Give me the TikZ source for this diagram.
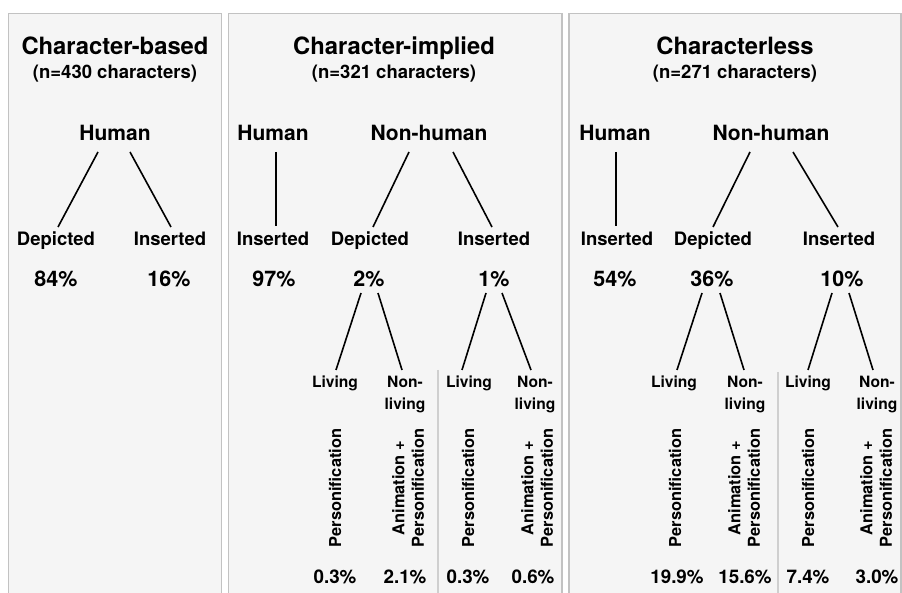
\documentclass[tikz,border=0pt]{standalone}
\usepackage{fontspec}
\setmainfont{TeX Gyre Heros}
\usetikzlibrary{calc}
\definecolor{panelfill}{HTML}{F5F5F5}
\definecolor{panelline}{HTML}{C2C2C2}
\definecolor{divline}{HTML}{CFCFCF}
\tikzset{
 panel/.style={fill=panelfill, draw=panelline, line width=1.5pt},
 ttl/.style={anchor=base, font=\fontsize{23.8}{28}\selectfont\bfseries, inner sep=0pt},
 sub/.style={anchor=base, font=\fontsize{18.5}{22}\selectfont\bfseries, inner sep=0pt},
 lvA/.style={anchor=base, font=\fontsize{21}{25}\selectfont\bfseries, inner sep=0pt},
 lvB/.style={anchor=base, font=\fontsize{18.5}{22}\selectfont\bfseries, inner sep=0pt},
 pctA/.style={anchor=base, font=\fontsize{21.5}{25}\selectfont\bfseries, inner sep=0pt},
 lvC/.style={anchor=base, font=\fontsize{15.6}{21}\selectfont\bfseries, inner sep=0pt},
 rot/.style={rotate=90, anchor=center, align=center, font=\fontsize{16.4}{19.5}\selectfont\bfseries, inner sep=0pt},
 pctB/.style={anchor=base, font=\fontsize{18.8}{22}\selectfont\bfseries, inner sep=0pt},
 link/.style={line width=1.6pt, black},
 divider/.style={draw=divline, line width=1.2pt},
}
\newcommand{\nonliving}{\begin{tabular}[t]{@{}c@{}}Non-\\living\end{tabular}}
\begin{document}
\begin{tikzpicture}[x=1pt,y=-1pt]
\useasboundingbox (0,0) rectangle (902,593);
\clip (0,0) rectangle (902,593);
\fill[white] (0,0) rectangle (902,593);
\draw[panel] (8.7,13.5) rectangle (221.5,620);
\draw[panel] (228.5,13.5) rectangle (562,620);
\draw[panel] (569,13.5) rectangle (901,620);
\draw[divider] (438,370) -- (438,600);
\draw[divider] (778,372) -- (778,600);

% Panel 1
\node[ttl] (t1) at (115,55) {Character-based};
\node[sub] (s1) at (115,79) {(n=430 characters)};
\node[lvA] (h1) at (115,141) {Human};
\node[lvB] (d1) at (56,246) {Depicted};
\node[lvB] (i1) at (170,246) {Inserted};
\node[pctA] (p1a) at (56,287) {84\%};
\node[pctA] (p1b) at (169,287) {16\%};

% Panel 2
\node[ttl] (t2) at (394,55) {Character-implied};
\node[sub] (s2) at (394,79) {(n=321 characters)};
\node[lvA] (h2) at (273,141) {Human};
\node[lvA] (nh2) at (429,141) {Non-human};
\node[lvB] (ih2) at (273,246) {Inserted};
\node[lvB] (d2) at (370,246) {Depicted};
\node[lvB] (i2) at (494,246) {Inserted};
\node[pctA] (p2a) at (274,287) {97\%};
\node[pctA] (p2b) at (369,287) {2\%};
\node[pctA] (p2c) at (494,287) {1\%};
\node[lvC] (l2a) at (335,388) {Living};
\node[lvC] (nl2a) at (405,388) {\nonliving};
\node[lvC] (l2b) at (469,388) {Living};
\node[lvC] (nl2b) at (535,388) {\nonliving};
\node[rot] (r2a) at (335,488) {Personification};
\node[rot] (r2b) at (408,488) {Animation +\\Personification};
\node[rot] (r2c) at (468,488) {Personification};
\node[rot] (r2d) at (537,488) {Animation +\\Personification};
\node[pctB] (q2a) at (335,583) {0.3\%};
\node[pctB] (q2b) at (405,583) {2.1\%};
\node[pctB] (q2c) at (468,583) {0.3\%};
\node[pctB] (q2d) at (533,583) {0.6\%};

% Panel 3
\node[ttl] (t3) at (735,55) {Characterless};
\node[sub] (s3) at (735,79) {(n=271 characters)};
\node[lvA] (h3) at (615,141) {Human};
\node[lvA] (nh3) at (771,141) {Non-human};
\node[lvB] (ih3) at (617,246) {Inserted};
\node[lvB] (d3) at (713,246) {Depicted};
\node[lvB] (i3) at (839,246) {Inserted};
\node[pctA] (p3a) at (615,287) {54\%};
\node[pctA] (p3b) at (712,287) {36\%};
\node[pctA] (p3c) at (842,287) {10\%};
\node[lvC] (l3a) at (674,388) {Living};
\node[lvC] (nl3a) at (745,388) {\nonliving};
\node[lvC] (l3b) at (808,388) {Living};
\node[lvC] (nl3b) at (877,388) {\nonliving};
\node[rot] (r3a) at (675,488) {Personification};
\node[rot] (r3b) at (744,488) {Animation +\\Personification};
\node[rot] (r3c) at (808,488) {Personification};
\node[rot] (r3d) at (876,488) {Animation +\\Personification};
\node[pctB] (q3a) at (677,583) {19.9\%};
\node[pctB] (q3b) at (745,583) {15.6\%};
\node[pctB] (q3c) at (808,583) {7.4\%};
\node[pctB] (q3d) at (877,583) {3.0\%};

% Connectors
\draw[link] ($(h1.base)+(-17,11)$) -- ($(d1.base)+(2,-19)$);
\draw[link] ($(h1.base)+(15,11)$) -- ($(i1.base)+(1,-19)$);

\draw[link] ($(h2.base)+(3,11)$) -- ($(ih2.base)+(3,-20)$);
\draw[link] ($(nh2.base)+(-20,11)$) -- ($(d2.base)+(3,-19)$);
\draw[link] ($(nh2.base)+(24,11)$) -- ($(i2.base)+(-2,-19)$);
\draw[link] ($(p2b.base)+(-8,6)$) -- ($(l2a.base)+(1,-18)$);
\draw[link] ($(p2b.base)+(9,6)$) -- ($(nl2a.base)+(-3,-18)$);
\draw[link] ($(p2c.base)+(-8,6)$) -- ($(l2b.base)+(-7,-18)$);
\draw[link] ($(p2c.base)+(8,6)$) -- ($(nl2b.base)+(-4,-18)$);

\draw[link] ($(h3.base)+(1,11)$) -- ($(ih3.base)+(-1,-20)$);
\draw[link] ($(nh3.base)+(-21,11)$) -- ($(d3.base)+(0,-19)$);
\draw[link] ($(nh3.base)+(22,11)$) -- ($(i3.base)+(-1,-19)$);
\draw[link] ($(p3b.base)+(-10,6)$) -- ($(l3a.base)+(3,-18)$);
\draw[link] ($(p3b.base)+(8,6)$) -- ($(nl3a.base)+(-1,-18)$);
\draw[link] ($(p3c.base)+(-10,6)$) -- ($(l3b.base)+(0,-18)$);
\draw[link] ($(p3c.base)+(7,6)$) -- ($(nl3b.base)+(-4,-18)$);
\end{tikzpicture}
\end{document}
